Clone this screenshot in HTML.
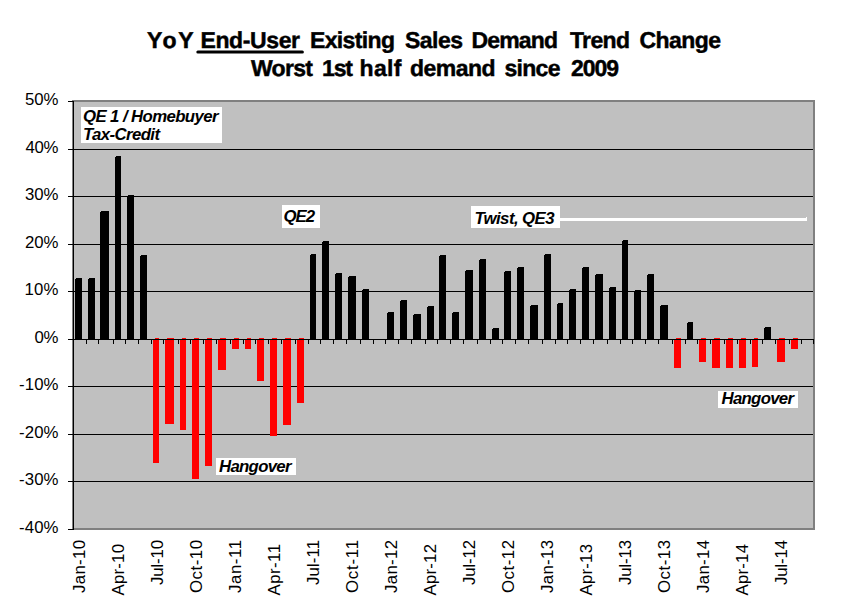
<!DOCTYPE html>
<html><head><meta charset="utf-8"><title>YoY End-User Existing Sales Demand Trend Change</title>
<style>
html,body{margin:0;padding:0;background:#fff;width:862px;height:611px;overflow:hidden}
svg{display:block}
text{shape-rendering:auto;font-family:"Liberation Sans",Arial,sans-serif;fill:#000}
.yl{font-size:16.8px}
.xl{font-size:16.8px}
.an{font-size:16.8px;font-weight:bold;font-style:italic}
.t1{font-size:23px;font-weight:bold;stroke:#000;stroke-width:0.45px;text-rendering:geometricPrecision}
</style></head><body>
<svg width="862" height="611" viewBox="0 0 862 611" shape-rendering="crispEdges">
<rect x="72" y="100" width="743" height="430" fill="#808080"/>
<rect x="74" y="102" width="739" height="426" fill="#c0c0c0"/>
<rect x="74" y="149" width="739" height="1" fill="#000"/>
<rect x="74" y="196" width="739" height="1" fill="#000"/>
<rect x="74" y="244" width="739" height="1" fill="#000"/>
<rect x="74" y="291" width="739" height="1" fill="#000"/>
<rect x="74" y="386" width="739" height="1" fill="#000"/>
<rect x="74" y="434" width="739" height="1" fill="#000"/>
<rect x="74" y="481" width="739" height="1" fill="#000"/>
<rect x="75" y="279" width="7" height="60" fill="#000"/>
<rect x="76" y="278" width="6" height="1" fill="#000"/>
<rect x="88" y="279" width="7" height="60" fill="#000"/>
<rect x="89" y="278" width="6" height="1" fill="#000"/>
<rect x="100" y="212" width="9" height="127" fill="#000"/>
<rect x="101" y="211" width="8" height="1" fill="#000"/>
<rect x="115" y="157" width="6" height="182" fill="#000"/>
<rect x="116" y="156" width="5" height="1" fill="#000"/>
<rect x="127" y="196" width="7" height="143" fill="#000"/>
<rect x="128" y="195" width="6" height="1" fill="#000"/>
<rect x="140" y="256" width="7" height="83" fill="#000"/>
<rect x="141" y="255" width="6" height="1" fill="#000"/>
<rect x="153" y="340" width="6" height="123" fill="#f00"/>
<rect x="155" y="338" width="4" height="1" fill="#f00"/>
<rect x="165" y="340" width="9" height="84" fill="#f00"/>
<rect x="167" y="338" width="7" height="1" fill="#f00"/>
<rect x="180" y="340" width="6" height="90" fill="#f00"/>
<rect x="182" y="338" width="4" height="1" fill="#f00"/>
<rect x="192" y="340" width="7" height="139" fill="#f00"/>
<rect x="194" y="338" width="5" height="1" fill="#f00"/>
<rect x="205" y="340" width="7" height="126" fill="#f00"/>
<rect x="207" y="338" width="5" height="1" fill="#f00"/>
<rect x="218" y="340" width="8" height="30" fill="#f00"/>
<rect x="220" y="338" width="6" height="1" fill="#f00"/>
<rect x="232" y="340" width="7" height="9" fill="#f00"/>
<rect x="234" y="338" width="5" height="1" fill="#f00"/>
<rect x="245" y="340" width="6" height="9" fill="#f00"/>
<rect x="247" y="338" width="4" height="1" fill="#f00"/>
<rect x="257" y="340" width="7" height="41" fill="#f00"/>
<rect x="259" y="338" width="5" height="1" fill="#f00"/>
<rect x="270" y="340" width="7" height="96" fill="#f00"/>
<rect x="272" y="338" width="5" height="1" fill="#f00"/>
<rect x="283" y="340" width="8" height="85" fill="#f00"/>
<rect x="285" y="338" width="6" height="1" fill="#f00"/>
<rect x="297" y="340" width="7" height="63" fill="#f00"/>
<rect x="299" y="338" width="5" height="1" fill="#f00"/>
<rect x="310" y="255" width="6" height="84" fill="#000"/>
<rect x="311" y="254" width="5" height="1" fill="#000"/>
<rect x="322" y="242" width="7" height="97" fill="#000"/>
<rect x="323" y="241" width="6" height="1" fill="#000"/>
<rect x="335" y="274" width="7" height="65" fill="#000"/>
<rect x="336" y="273" width="6" height="1" fill="#000"/>
<rect x="348" y="277" width="8" height="62" fill="#000"/>
<rect x="349" y="276" width="7" height="1" fill="#000"/>
<rect x="362" y="290" width="7" height="49" fill="#000"/>
<rect x="363" y="289" width="6" height="1" fill="#000"/>
<rect x="387" y="313" width="7" height="26" fill="#000"/>
<rect x="388" y="312" width="6" height="1" fill="#000"/>
<rect x="400" y="301" width="7" height="38" fill="#000"/>
<rect x="401" y="300" width="6" height="1" fill="#000"/>
<rect x="413" y="315" width="8" height="24" fill="#000"/>
<rect x="414" y="314" width="7" height="1" fill="#000"/>
<rect x="427" y="307" width="7" height="32" fill="#000"/>
<rect x="428" y="306" width="6" height="1" fill="#000"/>
<rect x="439" y="256" width="7" height="83" fill="#000"/>
<rect x="440" y="255" width="6" height="1" fill="#000"/>
<rect x="452" y="313" width="7" height="26" fill="#000"/>
<rect x="453" y="312" width="6" height="1" fill="#000"/>
<rect x="465" y="271" width="8" height="68" fill="#000"/>
<rect x="466" y="270" width="7" height="1" fill="#000"/>
<rect x="479" y="260" width="7" height="79" fill="#000"/>
<rect x="480" y="259" width="6" height="1" fill="#000"/>
<rect x="492" y="329" width="7" height="10" fill="#000"/>
<rect x="493" y="328" width="6" height="1" fill="#000"/>
<rect x="504" y="272" width="7" height="67" fill="#000"/>
<rect x="505" y="271" width="6" height="1" fill="#000"/>
<rect x="517" y="268" width="7" height="71" fill="#000"/>
<rect x="518" y="267" width="6" height="1" fill="#000"/>
<rect x="530" y="306" width="8" height="33" fill="#000"/>
<rect x="531" y="305" width="7" height="1" fill="#000"/>
<rect x="544" y="255" width="7" height="84" fill="#000"/>
<rect x="545" y="254" width="6" height="1" fill="#000"/>
<rect x="557" y="304" width="6" height="35" fill="#000"/>
<rect x="558" y="303" width="5" height="1" fill="#000"/>
<rect x="569" y="290" width="7" height="49" fill="#000"/>
<rect x="570" y="289" width="6" height="1" fill="#000"/>
<rect x="582" y="268" width="7" height="71" fill="#000"/>
<rect x="583" y="267" width="6" height="1" fill="#000"/>
<rect x="595" y="275" width="8" height="64" fill="#000"/>
<rect x="596" y="274" width="7" height="1" fill="#000"/>
<rect x="609" y="288" width="7" height="51" fill="#000"/>
<rect x="610" y="287" width="6" height="1" fill="#000"/>
<rect x="622" y="241" width="6" height="98" fill="#000"/>
<rect x="623" y="240" width="5" height="1" fill="#000"/>
<rect x="634" y="291" width="7" height="48" fill="#000"/>
<rect x="635" y="290" width="6" height="1" fill="#000"/>
<rect x="647" y="275" width="7" height="64" fill="#000"/>
<rect x="648" y="274" width="6" height="1" fill="#000"/>
<rect x="660" y="306" width="8" height="33" fill="#000"/>
<rect x="661" y="305" width="7" height="1" fill="#000"/>
<rect x="674" y="340" width="7" height="28" fill="#f00"/>
<rect x="676" y="338" width="5" height="1" fill="#f00"/>
<rect x="687" y="323" width="6" height="16" fill="#000"/>
<rect x="688" y="322" width="5" height="1" fill="#000"/>
<rect x="699" y="340" width="7" height="22" fill="#f00"/>
<rect x="701" y="338" width="5" height="1" fill="#f00"/>
<rect x="712" y="340" width="8" height="28" fill="#f00"/>
<rect x="714" y="338" width="6" height="1" fill="#f00"/>
<rect x="726" y="340" width="7" height="28" fill="#f00"/>
<rect x="728" y="338" width="5" height="1" fill="#f00"/>
<rect x="739" y="340" width="7" height="28" fill="#f00"/>
<rect x="741" y="338" width="5" height="1" fill="#f00"/>
<rect x="752" y="340" width="6" height="27" fill="#f00"/>
<rect x="754" y="338" width="4" height="1" fill="#f00"/>
<rect x="764" y="328" width="7" height="11" fill="#000"/>
<rect x="765" y="327" width="6" height="1" fill="#000"/>
<rect x="777" y="340" width="8" height="22" fill="#f00"/>
<rect x="779" y="338" width="6" height="1" fill="#f00"/>
<rect x="791" y="340" width="7" height="9" fill="#f00"/>
<rect x="793" y="338" width="5" height="1" fill="#f00"/>
<rect x="73" y="339" width="741" height="1" fill="#000"/>
<rect x="86" y="340" width="1" height="4" fill="#000"/>
<rect x="98" y="340" width="1" height="4" fill="#000"/>
<rect x="113" y="340" width="1" height="4" fill="#000"/>
<rect x="125" y="340" width="1" height="4" fill="#000"/>
<rect x="138" y="340" width="1" height="4" fill="#000"/>
<rect x="151" y="340" width="1" height="4" fill="#000"/>
<rect x="163" y="340" width="1" height="4" fill="#000"/>
<rect x="178" y="340" width="1" height="4" fill="#000"/>
<rect x="190" y="340" width="1" height="4" fill="#000"/>
<rect x="203" y="340" width="1" height="4" fill="#000"/>
<rect x="216" y="340" width="1" height="4" fill="#000"/>
<rect x="230" y="340" width="1" height="4" fill="#000"/>
<rect x="243" y="340" width="1" height="4" fill="#000"/>
<rect x="255" y="340" width="1" height="4" fill="#000"/>
<rect x="268" y="340" width="1" height="4" fill="#000"/>
<rect x="281" y="340" width="1" height="4" fill="#000"/>
<rect x="295" y="340" width="1" height="4" fill="#000"/>
<rect x="308" y="340" width="1" height="4" fill="#000"/>
<rect x="320" y="340" width="1" height="4" fill="#000"/>
<rect x="333" y="340" width="1" height="4" fill="#000"/>
<rect x="346" y="340" width="1" height="4" fill="#000"/>
<rect x="360" y="340" width="1" height="4" fill="#000"/>
<rect x="373" y="340" width="1" height="4" fill="#000"/>
<rect x="385" y="340" width="1" height="4" fill="#000"/>
<rect x="398" y="340" width="1" height="4" fill="#000"/>
<rect x="411" y="340" width="1" height="4" fill="#000"/>
<rect x="425" y="340" width="1" height="4" fill="#000"/>
<rect x="437" y="340" width="1" height="4" fill="#000"/>
<rect x="450" y="340" width="1" height="4" fill="#000"/>
<rect x="463" y="340" width="1" height="4" fill="#000"/>
<rect x="477" y="340" width="1" height="4" fill="#000"/>
<rect x="490" y="340" width="1" height="4" fill="#000"/>
<rect x="502" y="340" width="1" height="4" fill="#000"/>
<rect x="515" y="340" width="1" height="4" fill="#000"/>
<rect x="528" y="340" width="1" height="4" fill="#000"/>
<rect x="542" y="340" width="1" height="4" fill="#000"/>
<rect x="555" y="340" width="1" height="4" fill="#000"/>
<rect x="567" y="340" width="1" height="4" fill="#000"/>
<rect x="580" y="340" width="1" height="4" fill="#000"/>
<rect x="593" y="340" width="1" height="4" fill="#000"/>
<rect x="607" y="340" width="1" height="4" fill="#000"/>
<rect x="620" y="340" width="1" height="4" fill="#000"/>
<rect x="632" y="340" width="1" height="4" fill="#000"/>
<rect x="645" y="340" width="1" height="4" fill="#000"/>
<rect x="658" y="340" width="1" height="4" fill="#000"/>
<rect x="672" y="340" width="1" height="4" fill="#000"/>
<rect x="685" y="340" width="1" height="4" fill="#000"/>
<rect x="697" y="340" width="1" height="4" fill="#000"/>
<rect x="710" y="340" width="1" height="4" fill="#000"/>
<rect x="724" y="340" width="1" height="4" fill="#000"/>
<rect x="737" y="340" width="1" height="4" fill="#000"/>
<rect x="750" y="340" width="1" height="4" fill="#000"/>
<rect x="762" y="340" width="1" height="4" fill="#000"/>
<rect x="775" y="340" width="1" height="4" fill="#000"/>
<rect x="789" y="340" width="1" height="4" fill="#000"/>
<rect x="801" y="340" width="1" height="4" fill="#000"/>
<rect x="813" y="340" width="1" height="4" fill="#000"/>
<rect x="73" y="101" width="1" height="429" fill="#000"/>
<rect x="68" y="101" width="5" height="1" fill="#000"/>
<rect x="68" y="149" width="5" height="1" fill="#000"/>
<rect x="68" y="196" width="5" height="1" fill="#000"/>
<rect x="68" y="244" width="5" height="1" fill="#000"/>
<rect x="68" y="291" width="5" height="1" fill="#000"/>
<rect x="68" y="339" width="5" height="1" fill="#000"/>
<rect x="68" y="386" width="5" height="1" fill="#000"/>
<rect x="68" y="434" width="5" height="1" fill="#000"/>
<rect x="68" y="481" width="5" height="1" fill="#000"/>
<rect x="68" y="529" width="5" height="1" fill="#000"/>
<rect x="560" y="218" width="247" height="3" fill="#fff"/>
<rect x="806" y="217" width="1" height="1" fill="#fff"/>
<rect x="81" y="107" width="141" height="36" fill="#fff"/>
<rect x="282" y="205" width="38" height="23" fill="#fff"/>
<rect x="471" y="206" width="89" height="22" fill="#fff"/>
<rect x="216" y="458" width="80" height="17" fill="#fff"/>
<rect x="718" y="391" width="80" height="17" fill="#fff"/>
<rect x="196.3" y="50.4" width="107.6" height="3.1" rx="1.5" fill="#000" shape-rendering="auto"/>
<text x="146.9 162.6 178.2" y="47.8" class="t1">YoY</text>
<text x="200.50" y="47.8" class="t1" textLength="99.50" lengthAdjust="spacing">End-User</text>
<text x="310.00" y="47.8" class="t1" textLength="85.00" lengthAdjust="spacing">Existing</text>
<text x="405.00" y="47.8" class="t1" textLength="58.00" lengthAdjust="spacing">Sales</text>
<text x="471.50" y="47.8" class="t1" textLength="86.50" lengthAdjust="spacing">Demand</text>
<text x="570.00" y="47.8" class="t1" textLength="60.00" lengthAdjust="spacing">Trend</text>
<text x="639.50" y="47.8" class="t1" textLength="81.50" lengthAdjust="spacing">Change</text>
<text x="251.00" y="75.8" class="t1" textLength="62.00" lengthAdjust="spacing">Worst</text>
<text x="322.00" y="75.8" class="t1" textLength="31.00" lengthAdjust="spacing">1st</text>
<text x="359.50" y="75.8" class="t1" textLength="42.00" lengthAdjust="spacing">half</text>
<text x="410.00" y="75.8" class="t1" textLength="85.50" lengthAdjust="spacing">demand</text>
<text x="504.50" y="75.8" class="t1" textLength="56.00" lengthAdjust="spacing">since</text>
<text x="571.00" y="75.8" class="t1" textLength="48.00" lengthAdjust="spacing">2009</text>
<text x="83.00" y="121.6" class="an" textLength="135.50" lengthAdjust="spacing">QE 1 / Homebuyer</text>
<text x="83.00" y="139.7" class="an" textLength="77.00" lengthAdjust="spacing">Tax-Credit</text>
<text x="283.50" y="221.6" class="an" textLength="31.50" lengthAdjust="spacing">QE2</text>
<text x="474.50" y="223.5" class="an" textLength="80.00" lengthAdjust="spacing">Twist, QE3</text>
<text x="219.00" y="472" class="an" textLength="72.50" lengthAdjust="spacing">Hangover</text>
<text x="721.50" y="403.7" class="an" textLength="72.50" lengthAdjust="spacing">Hangover</text>
<text x="25.00" y="105.0" class="yl" textLength="33.50" lengthAdjust="spacing">50%</text>
<text x="25.50" y="152.5" class="yl" textLength="33.00" lengthAdjust="spacing">40%</text>
<text x="25.00" y="200.0" class="yl" textLength="33.50" lengthAdjust="spacing">30%</text>
<text x="25.00" y="247.5" class="yl" textLength="33.50" lengthAdjust="spacing">20%</text>
<text x="24.50" y="295.0" class="yl" textLength="34.00" lengthAdjust="spacing">10%</text>
<text x="34.50" y="342.5" class="yl" textLength="24.00" lengthAdjust="spacing">0%</text>
<text x="19.00" y="390.0" class="yl" textLength="39.50" lengthAdjust="spacing">-10%</text>
<text x="19.00" y="437.5" class="yl" textLength="39.50" lengthAdjust="spacing">-20%</text>
<text x="19.00" y="485.0" class="yl" textLength="39.50" lengthAdjust="spacing">-30%</text>
<text x="19.00" y="532.5" class="yl" textLength="39.50" lengthAdjust="spacing">-40%</text>
<text transform="translate(85.30,593.00) rotate(-90)" class="xl" textLength="53.00" lengthAdjust="spacing">Jan-10</text>
<text transform="translate(124.30,595.50) rotate(-90)" class="xl" textLength="51.50" lengthAdjust="spacing">Apr-10</text>
<text transform="translate(163.30,585.00) rotate(-90)" class="xl" textLength="45.00" lengthAdjust="spacing">Jul-10</text>
<text transform="translate(202.30,593.00) rotate(-90)" class="xl" textLength="53.00" lengthAdjust="spacing">Oct-10</text>
<text transform="translate(241.30,593.00) rotate(-90)" class="xl" textLength="53.00" lengthAdjust="spacing">Jan-11</text>
<text transform="translate(280.30,595.50) rotate(-90)" class="xl" textLength="51.50" lengthAdjust="spacing">Apr-11</text>
<text transform="translate(319.30,585.00) rotate(-90)" class="xl" textLength="45.00" lengthAdjust="spacing">Jul-11</text>
<text transform="translate(358.30,593.00) rotate(-90)" class="xl" textLength="53.00" lengthAdjust="spacing">Oct-11</text>
<text transform="translate(397.30,593.00) rotate(-90)" class="xl" textLength="53.00" lengthAdjust="spacing">Jan-12</text>
<text transform="translate(436.30,595.50) rotate(-90)" class="xl" textLength="51.50" lengthAdjust="spacing">Apr-12</text>
<text transform="translate(475.30,585.00) rotate(-90)" class="xl" textLength="45.00" lengthAdjust="spacing">Jul-12</text>
<text transform="translate(514.30,593.00) rotate(-90)" class="xl" textLength="53.00" lengthAdjust="spacing">Oct-12</text>
<text transform="translate(553.30,593.00) rotate(-90)" class="xl" textLength="53.00" lengthAdjust="spacing">Jan-13</text>
<text transform="translate(592.30,595.50) rotate(-90)" class="xl" textLength="51.50" lengthAdjust="spacing">Apr-13</text>
<text transform="translate(631.30,585.00) rotate(-90)" class="xl" textLength="45.00" lengthAdjust="spacing">Jul-13</text>
<text transform="translate(670.30,593.00) rotate(-90)" class="xl" textLength="53.00" lengthAdjust="spacing">Oct-13</text>
<text transform="translate(709.30,593.00) rotate(-90)" class="xl" textLength="53.00" lengthAdjust="spacing">Jan-14</text>
<text transform="translate(748.30,595.50) rotate(-90)" class="xl" textLength="51.50" lengthAdjust="spacing">Apr-14</text>
<text transform="translate(787.30,585.00) rotate(-90)" class="xl" textLength="45.00" lengthAdjust="spacing">Jul-14</text>
</svg>
</body></html>
